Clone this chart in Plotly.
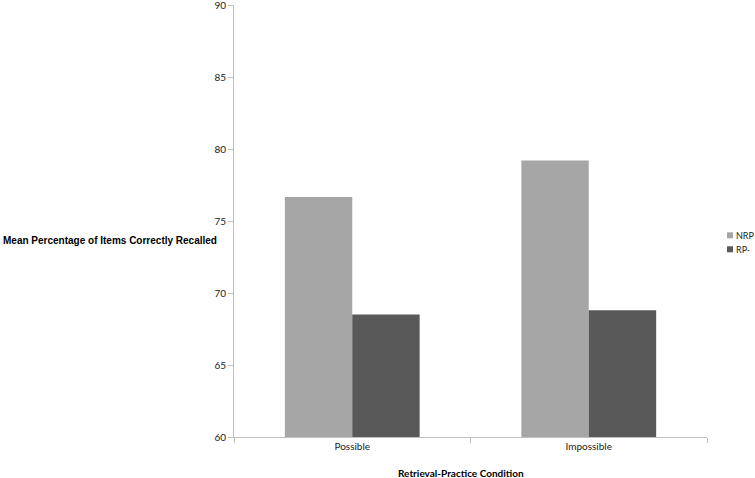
import plotly.graph_objects as go

categories = ["Possible", "Impossible"]
nrp_values = [76.67, 79.2]
rpm_values = [68.5, 68.8]
series_names = ["NRP", "RP-"]
y_ticks = [60, 65, 70, 75, 80, 85, 90]

colors = ["#a6a6a6", "#595959"]
tick_font = dict(family="Lato", size=10, color="#222")

W, H = 755, 478
L, R, T, B = 234, 48, 5, 41
PW, PH = W - L - R, H - T - B

def px_x(x):
    return (x - L) / PW

def px_y(y):
    return (H - B - y) / PH

fig = go.Figure()
for name, vals, col in zip(series_names, [nrp_values, rpm_values], colors):
    fig.add_trace(go.Bar(x=categories, y=vals, name=name, marker=dict(color=col, line=dict(width=0)),
                         showlegend=False))

shapes = []
annotations = []
for i, (name, col) in enumerate(zip(series_names, colors)):
    cy = 235.3 + 14 * i
    shapes.append(dict(type="rect", xref="paper", yref="paper",
                       x0=px_x(727), x1=px_x(733), y0=px_y(cy + 3), y1=px_y(cy - 3),
                       fillcolor=col, line=dict(width=0)))
    annotations.append(dict(text=name, xref="paper", yref="paper", x=px_x(734), y=px_y(cy),
                            xanchor="left", yanchor="middle", showarrow=False,
                            font=dict(family="Lato", size=9, color="#222")))

annotations += [
    dict(text="<b>Mean Percentage of Items Correctly Recalled</b>", xref="paper", yref="paper",
         x=px_x(1), y=px_y(240.7), xanchor="left", yanchor="middle", showarrow=False,
         font=dict(family="Liberation Sans", size=10, color="#000")),
    dict(text="<b>Retrieval-Practice Condition</b>", xref="paper", yref="paper",
         x=px_x(461), y=px_y(472.5), xanchor="center", yanchor="middle", showarrow=False,
         font=dict(family="Lato", size=10, color="#000")),
]

fig.update_layout(
    width=W, height=H,
    margin=dict(l=L, r=R, t=T, b=B),
    plot_bgcolor="white", paper_bgcolor="white",
    barmode="group", bargap=0.43, bargroupgap=0,
    showlegend=False,
    xaxis=dict(showline=True, linecolor="#c0c0c0", linewidth=1, ticks="outside", tickson="boundaries",
               ticklen=5, tickcolor="#c0c0c0", tickfont=tick_font, showgrid=False, zeroline=False,
               automargin=False),
    yaxis=dict(range=[60, 90.0001], tickvals=y_ticks, showline=True, linecolor="#c0c0c0", linewidth=1,
               ticks="outside", ticklen=5, tickcolor="#c0c0c0", tickfont=tick_font,
               ticklabeloverflow="allow", showgrid=False, zeroline=False, automargin=False),
    shapes=shapes,
    annotations=annotations,
)

fig.write_html("out.html", config={"displayModeBar": False},
               post_script="document.body.style.margin='0';")
